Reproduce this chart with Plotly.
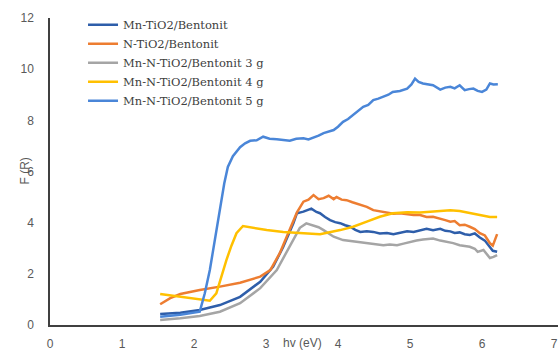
import plotly.graph_objects as go

names = ["Mn-TiO2/Bentonit", "N-TiO2/Bentonit", "Mn-N-TiO2/Bentonit 3 g",
         "Mn-N-TiO2/Bentonit 4 g", "Mn-N-TiO2/Bentonit 5 g"]
colors = ["#2E5EAA", "#ED7D31", "#A5A5A5", "#FFC000", "#4A86D8"]

x_mn = [1.53,1.81,2.08,2.36,2.64,2.92,3.10,3.24,3.38,3.43,3.52,3.58,3.63,3.70,3.75,3.82,3.89,3.96,4.03,4.10,4.17,4.24,4.31,4.40,4.49,4.58,4.68,4.77,4.86,4.96,5.05,5.14,5.23,5.32,5.42,5.49,5.56,5.62,5.69,5.76,5.83,5.90,5.97,6.04,6.11,6.15,6.21]
y_mn = [0.43,0.48,0.59,0.78,1.10,1.69,2.28,3.06,3.98,4.37,4.43,4.48,4.55,4.42,4.37,4.22,4.10,4.02,3.98,3.90,3.84,3.72,3.64,3.66,3.64,3.58,3.60,3.55,3.60,3.66,3.64,3.71,3.76,3.70,3.76,3.68,3.66,3.60,3.62,3.55,3.52,3.58,3.42,3.30,3.06,2.90,2.86]

x_n = [1.53,1.60,1.67,1.81,2.08,2.36,2.64,2.92,3.06,3.19,3.33,3.43,3.52,3.59,3.66,3.73,3.80,3.87,3.94,3.98,4.05,4.12,4.20,4.31,4.40,4.49,4.58,4.68,4.77,4.86,4.96,5.05,5.14,5.23,5.32,5.42,5.49,5.56,5.62,5.69,5.76,5.83,5.90,5.97,6.04,6.11,6.15,6.21]
y_n = [0.81,0.92,1.05,1.21,1.37,1.50,1.65,1.89,2.15,2.80,3.70,4.40,4.82,4.90,5.08,4.92,4.96,5.05,4.92,5.00,4.90,4.88,4.80,4.69,4.62,4.49,4.45,4.41,4.35,4.37,4.33,4.30,4.30,4.22,4.23,4.17,4.10,4.04,4.06,3.90,3.92,3.84,3.75,3.59,3.50,3.20,3.10,3.55]

x_3g = [1.53,1.81,2.08,2.36,2.64,2.92,3.15,3.33,3.47,3.56,3.62,3.66,3.73,3.80,3.87,3.94,4.07,4.17,4.26,4.35,4.44,4.54,4.63,4.72,4.82,4.91,5.00,5.09,5.18,5.23,5.32,5.42,5.51,5.60,5.69,5.76,5.83,5.90,5.94,6.02,6.07,6.11,6.16,6.21]
y_3g = [0.20,0.26,0.35,0.52,0.85,1.44,2.15,3.06,3.80,3.97,3.92,3.90,3.82,3.71,3.58,3.45,3.32,3.28,3.25,3.22,3.20,3.16,3.12,3.15,3.12,3.18,3.25,3.30,3.34,3.36,3.38,3.30,3.25,3.20,3.12,3.10,3.06,2.98,2.86,2.93,2.75,2.62,2.66,2.73]

x_4g = [1.53,1.81,2.08,2.22,2.31,2.38,2.45,2.52,2.59,2.68,2.82,3.01,3.24,3.47,3.75,4.03,4.21,4.40,4.58,4.76,4.96,5.14,5.32,5.56,5.69,5.83,5.97,6.11,6.21]
y_4g = [1.21,1.10,0.98,0.95,1.24,1.90,2.54,3.10,3.59,3.87,3.79,3.71,3.64,3.59,3.55,3.71,3.84,4.04,4.23,4.37,4.41,4.40,4.43,4.49,4.46,4.39,4.30,4.22,4.22]

x_5g = [1.53,1.81,2.08,2.15,2.22,2.29,2.36,2.42,2.47,2.54,2.64,2.71,2.78,2.87,2.96,3.05,3.15,3.24,3.33,3.42,3.52,3.59,3.66,3.73,3.80,3.87,3.94,4.00,4.07,4.14,4.21,4.28,4.35,4.42,4.49,4.56,4.63,4.70,4.76,4.86,4.96,5.02,5.07,5.12,5.18,5.25,5.32,5.42,5.49,5.56,5.62,5.69,5.76,5.82,5.88,5.94,6.00,6.06,6.11,6.16,6.22]
y_5g = [0.32,0.40,0.52,1.24,2.15,3.32,4.62,5.53,6.18,6.60,6.95,7.10,7.20,7.22,7.36,7.28,7.26,7.22,7.20,7.28,7.30,7.25,7.32,7.40,7.50,7.55,7.62,7.75,7.94,8.05,8.20,8.35,8.53,8.60,8.79,8.85,8.92,9.00,9.11,9.15,9.24,9.40,9.63,9.50,9.44,9.40,9.37,9.20,9.28,9.31,9.25,9.37,9.18,9.22,9.24,9.15,9.11,9.20,9.44,9.40,9.41]

x_ticks = [0, 1, 2, 3, 4, 5, 6, 7]
y_ticks = [0, 2, 4, 6, 8, 10, 12]

series = [(x_mn, y_mn), (x_n, y_n), (x_3g, y_3g), (x_4g, y_4g), (x_5g, y_5g)]

fig = go.Figure()
for (xs, ys), name, c in zip(series, names, colors):
    fig.add_trace(go.Scatter(x=xs, y=ys, mode="lines", name=name,
                             line=dict(color=c, width=2.5)))

tick_font = dict(family="Liberation Sans", size=12, color="#595959")

fig.update_layout(
    width=558, height=352,
    margin=dict(l=50, r=0, t=18, b=27),
    paper_bgcolor="white", plot_bgcolor="white",
    showlegend=True,
    legend=dict(x=0.065, y=1.025, xanchor="left", yanchor="top",
                bgcolor="rgba(0,0,0,0)", borderwidth=0,
                font=dict(family="DejaVu Serif", size=11.5, color="#404040"),
                tracegroupgap=0, itemwidth=30),
    xaxis=dict(range=[0, 7 * 508 / 504], tickvals=x_ticks, showgrid=False, zeroline=False,
               showline=True, linecolor="#404040", linewidth=1.5,
               ticks="", ticklabelstandoff=7, tickfont=tick_font),
    yaxis=dict(range=[0, 12], tickvals=y_ticks, showgrid=False, zeroline=False,
               showline=True, linecolor="#404040", linewidth=1.5,
               ticks="", ticklabelstandoff=12, tickfont=tick_font),
)

fig.add_annotation(x=3.5, y=0, xref="x", yref="y", yshift=-18,
                   text="hv (eV)", showarrow=False, font=tick_font)
fig.add_annotation(x=0, y=0.5, xref="paper", yref="paper", xshift=-35,
                   text="F (R)", textangle=-90, showarrow=False, font=tick_font)

fig.write_html("out.html")
